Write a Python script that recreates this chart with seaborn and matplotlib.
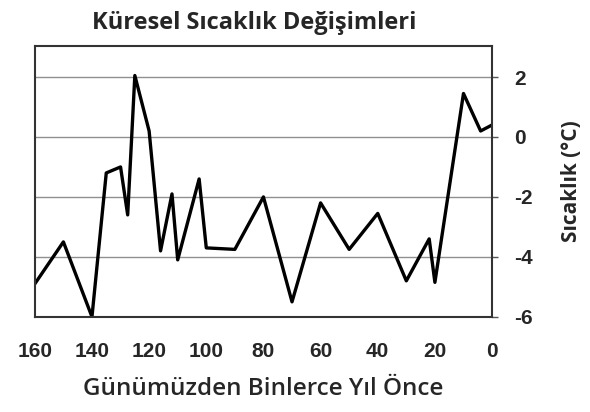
import matplotlib
matplotlib.use("Agg")
import matplotlib.pyplot as plt
import seaborn as sns
import pandas as pd

years = [160, 150, 140, 135, 130, 127.5, 125, 120, 116, 112, 110, 102.5, 100,
         90, 80, 70, 60, 50, 40, 30, 22, 20, 10, 4, 0]
temps = [-4.9, -3.5, -6.0, -1.2, -1.0, -2.6, 2.05, 0.2, -3.8, -1.9, -4.1, -1.4, -3.7,
         -3.75, -2.0, -5.5, -2.2, -3.75, -2.55, -4.8, -3.4, -4.85, 1.45, 0.2, 0.4]
xticks = [160, 140, 120, 100, 80, 60, 40, 20, 0]
yticks = [-6, -4, -2, 0, 2]

title = "Küresel Sıcaklık Değişimleri"
xlabel = "Günümüzden Binlerce Yıl Önce"
ylabel = "Sıcaklık (°C)"

sns.set_style("white")
plt.rcParams['font.family'] = ['Liberation Sans', 'DejaVu Sans']

df = pd.DataFrame({"year": years, "temp": temps})

fig = plt.figure(figsize=(5.9, 4.12), dpi=100)
ax = fig.add_axes([0.059, 0.231, 0.775, 0.657])

sns.lineplot(data=df, x="year", y="temp", color="black", linewidth=2.4, ax=ax,
             sort=False, estimator=None)

ax.set_xlim(160, 0)
ax.set_ylim(-6, 3.03)
ax.set_xticks(xticks)
ax.set_yticks(yticks)
ax.set_xticklabels([str(t) for t in xticks], fontsize=15, fontweight='bold')
ax.set_yticklabels([str(t) for t in yticks], fontsize=15, fontweight='bold')
ax.yaxis.tick_right()
ax.yaxis.set_label_position("right")
ax.tick_params(axis='x', direction='out', length=4, width=1, color='#555555', pad=14)
ax.tick_params(axis='y', direction='out', length=4, width=1, color='#555555', pad=12)

for y in [-4, -2, 0, 2]:
    ax.axhline(y, color='#909090', linewidth=1.0, zorder=0)

for s in ax.spines.values():
    s.set_color('#333333')
    s.set_linewidth(1.5)
    s.set_visible(True)

ax.set_xlabel(xlabel, fontsize=17.5, family=['Open Sans', 'DejaVu Sans'],
              fontweight='semibold', labelpad=12)
ax.set_ylabel(ylabel, fontsize=15, family=['Open Sans', 'DejaVu Sans'],
              fontweight='bold', labelpad=20, rotation=90)
ax.set_title(title, fontsize=17, family=['Open Sans', 'DejaVu Sans'],
             fontweight='bold', pad=12, x=0.48)

fig.savefig("out.png", dpi=100)
